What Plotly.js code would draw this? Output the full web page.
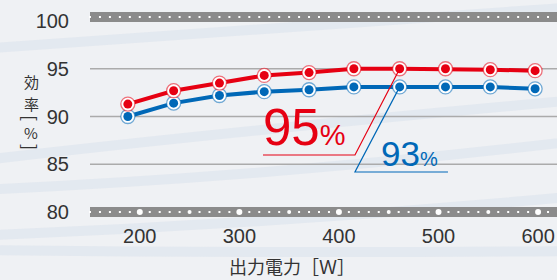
<!DOCTYPE html>
<html>
<head>
<meta charset="utf-8">
<script src="https://cdn.plot.ly/plotly-3.0.1.min.js"></script>
<style>
  html, body { margin: 0; padding: 0; background: #eff1f4; }
  #chart { width: 557px; height: 280px; }
</style>
</head>
<body>
<div id="chart"></div>
<script>
// ---- data ----
const outputPower = [188, 234, 280, 325, 370, 415, 461, 507, 552, 597];
const efficiencyHigh = [91.3, 92.7, 93.5, 94.3, 94.6, 95.0, 95.0, 95.0, 94.9, 94.8];
const efficiencyLow = [90.0, 91.4, 92.2, 92.6, 92.8, 93.1, 93.1, 93.1, 93.1, 92.9];
const xTickVals = [200, 300, 400, 500, 600];
const xHalfMarks = [250, 350, 450, 550];
const yTickVals = [80, 85, 90, 95, 100];
const gridVals = [85, 90, 95];
const peakIndex = 6;

const RED = '#e60012';
const BLUE = '#0068b7';
const RED_RING = 'rgba(230,0,18,0.55)';
const BLUE_RING = 'rgba(0,104,183,0.55)';
const BAND = '#8b8b8b';
const TEXT = '#333333';
const TOP_BAND_Y = 100.42;   // data y of the upper decorative band
const X_MIN = 150, X_MAX = 619;

function ringTrace(y, lineColor, ringColor) {
  return {
    x: outputPower, y: y, type: 'scatter', mode: 'lines+markers',
    line: {color: lineColor, width: 4},
    marker: {size: 14, color: '#ffffff', line: {color: ringColor, width: 1.3}},
    hoverinfo: 'skip', showlegend: false
  };
}
function dotTrace(y, color) {
  return {
    x: outputPower, y: y, type: 'scatter', mode: 'markers',
    marker: {size: 9, color: color},
    hoverinfo: 'skip', showlegend: false
  };
}
function bandDots(yv) {
  return [
    {x: xTickVals, y: xTickVals.map(() => yv), type: 'scatter', mode: 'markers',
     marker: {size: 6, color: '#ffffff'}, cliponaxis: false, hoverinfo: 'skip', showlegend: false},
    {x: xHalfMarks, y: xHalfMarks.map(() => yv), type: 'scatter', mode: 'markers',
     marker: {size: 4, color: '#ffffff'}, cliponaxis: false, hoverinfo: 'skip', showlegend: false}
  ];
}

const data = [].concat(
  bandDots(TOP_BAND_Y),
  bandDots(80),
  [ringTrace(efficiencyLow, BLUE, BLUE_RING), dotTrace(efficiencyLow, BLUE),
   ringTrace(efficiencyHigh, RED, RED_RING), dotTrace(efficiencyHigh, RED)]
);

const plotW = 467;
const pxPerUnit = plotW / (X_MAX - X_MIN);
const smallDash = '2px,' + (10 * pxPerUnit - 2).toFixed(3) + 'px';

const shapes = [];
// faint background streaks
const streaks = [
  'M -0.2,0.86 Q 0.3,0.95 1.2,1.1',
  'M -0.2,0.28 Q 0.4,0.45 1.2,0.62',
  'M -0.2,0.12 Q 0.5,0.2 1.2,0.42',
  'M -0.2,-0.12 Q 0.5,-0.05 1.2,0.12',
  'M -0.2,-0.2 Q 0.5,-0.22 1.2,-0.2'
];
streaks.forEach(p => shapes.push({type: 'path', xref: 'paper', yref: 'paper', path: p,
  line: {color: 'rgba(205,219,232,0.35)', width: 10}, layer: 'below'}));
// decorative bands
[1.0209, 0].forEach(py => {
  shapes.push({type: 'line', xref: 'paper', yref: 'paper', x0: 0, x1: 1, y0: py, y1: py,
    line: {color: BAND, width: 10}, layer: 'below'});
  shapes.push({type: 'line', xref: 'paper', yref: 'paper', x0: -1 / plotW, x1: 1, y0: py, y1: py,
    line: {color: '#ffffff', width: 2, dash: smallDash}, layer: 'below'});
});
// grid lines
gridVals.forEach(v => shapes.push({type: 'line', xref: 'x', yref: 'y', x0: X_MIN, x1: X_MAX, y0: v, y1: v,
  line: {color: '#ababab', width: 1.5}, layer: 'below'}));
// callout lines
shapes.push({type: 'path', xref: 'x', yref: 'y',
  path: 'M 323.7,85.97 L 416.1,85.97 L ' + outputPower[peakIndex] + ',' + efficiencyHigh[peakIndex],
  line: {color: RED, width: 1.2}, layer: 'above'});
shapes.push({type: 'path', xref: 'x', yref: 'y',
  path: 'M 509.5,84.19 L 416.1,84.19 L ' + outputPower[peakIndex] + ',' + efficiencyLow[peakIndex],
  line: {color: BLUE, width: 1.2}, layer: 'above'});

const cjk = '"Noto Sans CJK JP", "Noto Sans", sans-serif';
const annotations = [
  {xref: 'x', yref: 'y', x: 321.7, y: 88.83, xanchor: 'left', yanchor: 'middle', showarrow: false,
   text: "95<span style='font-size:29px'>%</span>",
   font: {family: '"Liberation Sans", Arial, sans-serif', size: 51, color: RED}},
  {xref: 'x', yref: 'y', x: 440.2, y: 86.09, xanchor: 'left', yanchor: 'middle', showarrow: false,
   text: "93<span style='font-size:20px'>%</span>",
   font: {family: '"Liberation Sans", Arial, sans-serif', size: 35, color: BLUE}},
  // y-axis title, stacked vertically
  {xref: 'paper', yref: 'paper', x: -0.1263, y: 0.683, xanchor: 'center', yanchor: 'middle', showarrow: false,
   text: '効', font: {family: cjk, size: 15, color: TEXT}},
  {xref: 'paper', yref: 'paper', x: -0.1263, y: 0.568, xanchor: 'center', yanchor: 'middle', showarrow: false,
   text: '率', font: {family: cjk, size: 15, color: TEXT}},
  {xref: 'paper', yref: 'paper', x: -0.1263, y: 0.492, xanchor: 'center', yanchor: 'middle', showarrow: false,
   text: '[', textangle: 90, font: {family: cjk, size: 18, color: TEXT}},
  {xref: 'paper', yref: 'paper', x: -0.1263, y: 0.416, xanchor: 'center', yanchor: 'middle', showarrow: false,
   text: '%', font: {family: cjk, size: 15, color: TEXT}},
  {xref: 'paper', yref: 'paper', x: -0.1263, y: 0.340, xanchor: 'center', yanchor: 'middle', showarrow: false,
   text: ']', textangle: 90, font: {family: cjk, size: 18, color: TEXT}},
  // x-axis title
  {xref: 'paper', yref: 'paper', x: 0.4336, y: -0.2827, xanchor: 'center', yanchor: 'middle', showarrow: false,
   text: '出力電力［Ｗ］', font: {family: cjk, size: 18, color: TEXT}}
];

const layout = {
  width: 557, height: 280,
  margin: {l: 90, r: 0, t: 21, b: 68, pad: 0},
  paper_bgcolor: '#eff1f4',
  plot_bgcolor: 'rgba(0,0,0,0)',
  showlegend: false,
  font: {family: '"Liberation Sans", Arial, sans-serif', color: TEXT},
  xaxis: {
    range: [X_MIN, X_MAX], tickvals: xTickVals, ticktext: xTickVals.map(String),
    showgrid: false, zeroline: false, showline: false,
    ticks: 'outside', ticklen: 6, tickcolor: 'rgba(0,0,0,0)',
    tickfont: {size: 20, color: TEXT}, fixedrange: true
  },
  yaxis: {
    range: [80, 100], tickvals: yTickVals, ticktext: yTickVals.map(String),
    showgrid: false, zeroline: false, showline: false,
    ticks: 'outside', ticklen: 16, tickcolor: 'rgba(0,0,0,0)',
    tickfont: {size: 20, color: TEXT}, fixedrange: true
  },
  shapes: shapes,
  annotations: annotations
};

Plotly.newPlot('chart', data, layout, {displayModeBar: false, staticPlot: true});
</script>
</body>
</html>
